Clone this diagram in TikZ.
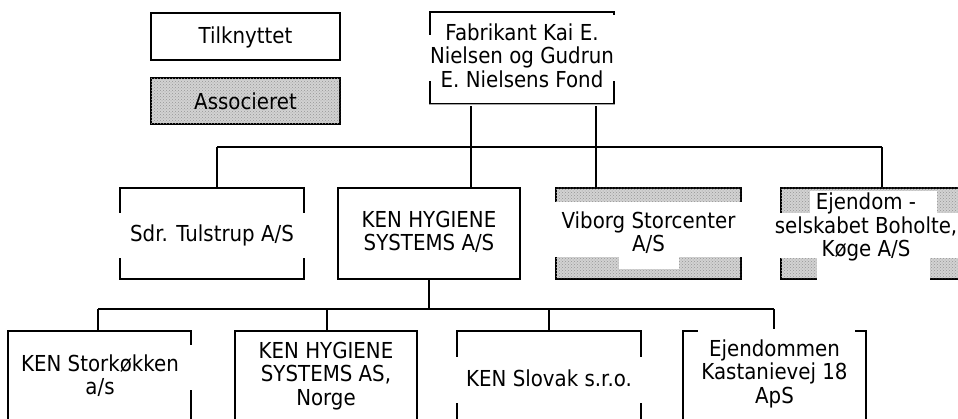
\documentclass[tikz,border=0pt]{standalone}
\usepackage{fontspec}
\setmainfont{DejaVu Sans}[FakeStretch=0.9]
\usetikzlibrary{patterns}
\definecolor{hatchgray}{RGB}{210,210,210}
\definecolor{hatchdark}{RGB}{150,150,150}
\begin{document}
\begin{tikzpicture}[x=1pt,y=-1pt,
  orgbox/.style={draw=black, line width=1.6pt, inner sep=0pt},
  assocbox/.style={orgbox, fill=hatchgray, postaction={pattern=crosshatch dots, pattern color=hatchdark}},
  conn/.style={draw=black, line width=1.6pt},
  lbl/.style={align=center, inner sep=0pt, font=\fontsize{22}{23.5}\selectfont},
  gapfill/.style={fill=white}]
\useasboundingbox (0,0) rectangle (958,419);
\clip (0,0) rectangle (958,419);

% legend
\node[orgbox, minimum width=189pt, minimum height=47pt] (tilk) at (245.5,36.5) {};
\node[assocbox, minimum width=189pt, minimum height=46pt] (assoc) at (245.5,101) {};

% top
\node[orgbox, minimum width=184pt, minimum height=92pt] (fond) at (522,58) {};

% row 2
\node[orgbox, minimum width=184pt, minimum height=91pt] (sdr) at (212,233.5) {};
\node[orgbox, minimum width=182pt, minimum height=91pt] (kenhyg) at (429,233.5) {};
\node[assocbox, minimum width=185pt, minimum height=91pt] (viborg) at (648.5,233.5) {};
\node[assocbox, minimum width=185pt, minimum height=91pt] (ejd) at (873.5,233.5) {};

% row 3
\node[orgbox, minimum width=183pt, minimum height=139pt] (stork) at (99.5,400.5) {};
\node[orgbox, minimum width=182pt, minimum height=139pt] (norge) at (326,400.5) {};
\node[orgbox, minimum width=184pt, minimum height=139pt] (slovak) at (549,400.5) {};
\node[orgbox, minimum width=183pt, minimum height=139pt] (ejdk) at (774.5,400.5) {};

% connectors
\coordinate (fs1) at (471,104);
\coordinate (fs2) at (596,104);
\coordinate (busL) at (217,147);
\coordinate (busR) at (882,147);
\coordinate (kb) at (429,309);
\coordinate (b2L) at (98,309);
\coordinate (b2a) at (327,309);
\coordinate (b2b) at (549,309);
\coordinate (b2R) at (774,309);
\draw[conn] (fs1) -- (fs1 |- kenhyg.north);
\draw[conn] (fs2) -- (fs2 |- viborg.north);
\draw[conn] (busL) -- (busR);
\draw[conn] (busL) -- (busL |- sdr.north);
\draw[conn] (busR) -- (busR |- ejd.north);
\draw[conn] (kenhyg.south) -- (kb);
\draw[conn] (b2L) -- (b2R);
\draw[conn] (b2L) -- (b2L |- stork.north);
\draw[conn] (b2a) -- (b2a |- norge.north);
\draw[conn] (b2b) -- (b2b |- slovak.north);
\draw[conn] (b2R) -- (b2R |- ejdk.north);

% fond bottom edge is thin and grey
\draw[white, line width=2.2pt] ([xshift=1pt]fond.south west) -- ([xshift=-1pt]fond.south east);
\draw[black!35, line width=0.8pt] (fond.south west) -- (fond.south east);

% white text backgrounds
\fill[gapfill] (428,35) rectangle (616,81);
\fill[gapfill] (436,15) rectangle (616,35);
\fill[gapfill] (118,213) rectangle (306,258);
\fill[gapfill] (554,202) rectangle (743,257);
\fill[gapfill] (619,257) rectangle (679,269);
\fill[gapfill] (810,191) rectangle (937,213);
\fill[gapfill] (779,213) rectangle (960,258);
\fill[gapfill] (817,258) rectangle (930,281);
\fill[gapfill] (12,345) rectangle (193,390);
\fill[gapfill] (455,357) rectangle (643,403);
\fill[gapfill] (698,329) rectangle (855,353);

% texts
\node[lbl] (t-tilk) at (245.5,37) {Tilknyttet};
\node[lbl] (t-assoc) at (245.5,101) {Associeret};
\node[lbl] (t-fond) at (522,55.5) {Fabrikant Kai E.\\Nielsen og Gudrun\\E. Nielsens Fond};
\node[lbl] (t-sdr) at (212,235) {Sdr. Tulstrup A/S};
\node[lbl] (t-kenhyg) at (429,232) {KEN HYGIENE\\SYSTEMS A/S};
\node[lbl] (t-viborg) at (648.5,232.5) {Viborg Storcenter\\A/S};
\node[lbl] (t-ejd) at (866,227) {Ejendom -\\selskabet Boholte,\\Køge A/S};
\node[lbl] (t-stork) at (100,375.5) {KEN Storkøkken\\a/s};
\node[lbl] (t-norge) at (326,376) {KEN HYGIENE\\SYSTEMS AS,\\Norge};
\node[lbl] (t-slovak) at (549,378) {KEN Slovak s.r.o.};
\node[lbl] (t-ejdk) at (774.5,373.5) {Ejendommen\\Kastanievej 18\\ApS};
\end{tikzpicture}
\end{document}
